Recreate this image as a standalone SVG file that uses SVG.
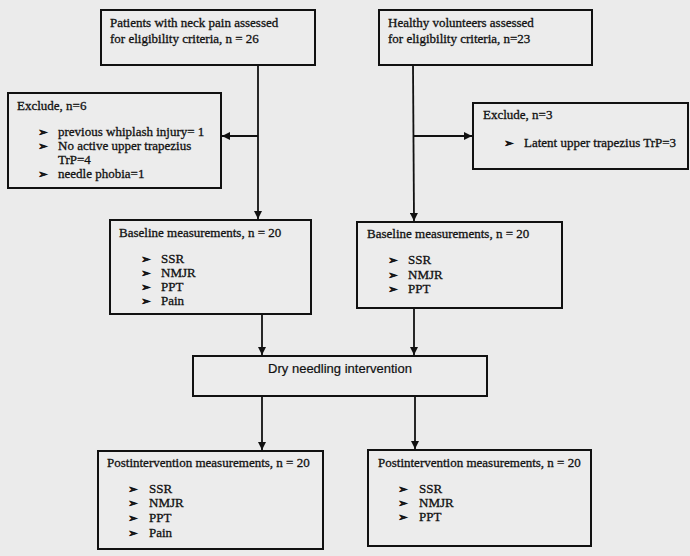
<svg xmlns="http://www.w3.org/2000/svg" width="690" height="556" viewBox="0 0 690 556">
<style>
.box{fill:#ececec;stroke:#111;stroke-width:2}
.t{font-family:"Liberation Serif","Times New Roman",serif;font-size:13px;fill:#111;stroke:#111;stroke-width:0.3}
.b{font-family:"DejaVu Sans",sans-serif;font-size:11.5px;fill:#111;stroke:#111;stroke-width:0.7}
.s{font-family:"Liberation Sans",Arial,sans-serif;font-size:13px;fill:#111;stroke:#111;stroke-width:0.2}
.c{stroke:#111;stroke-width:1.8;fill:none;marker-end:url(#ah)}
</style>
<defs>
<marker id="ah" markerUnits="userSpaceOnUse" markerWidth="9" markerHeight="8" refX="8" refY="4" orient="auto">
<path d="M0,0 L8,4 L0,8 z" fill="#111"/>
</marker>
</defs>
<rect x="0" y="0" width="690" height="556" fill="#ebebeb"/>
<g id="connectors">
<line class="c" x1="258" y1="65" x2="258" y2="219"/>
<line class="c" x1="258" y1="136" x2="222" y2="136"/>
<line class="c" x1="413" y1="65" x2="414" y2="221"/>
<line class="c" x1="413" y1="136" x2="472" y2="136"/>
<line class="c" x1="262" y1="314" x2="262" y2="355"/>
<line class="c" x1="414" y1="308" x2="414" y2="355"/>
<line class="c" x1="262" y1="396" x2="262" y2="450"/>
<line class="c" x1="415" y1="396" x2="415" y2="449"/>
</g>
<g id="patients">
<rect class="box" x="101" y="10" width="214" height="55"/>
<text class="t" x="110" y="27">Patients with neck pain assessed</text>
<text class="t" x="110" y="43">for eligibility criteria, n = 26</text>
</g>
<g id="healthy">
<rect class="box" x="379" y="10" width="213" height="55"/>
<text class="t" x="388" y="27">Healthy volunteers assessed</text>
<text class="t" x="388" y="43">for eligibility criteria, n=23</text>
</g>
<g id="exclude1">
<rect class="box" x="8" y="93" width="213" height="95"/>
<text class="t" x="17" y="110">Exclude, n=6</text>
<text class="b" x="38" y="136">➢</text>
<text class="t" x="58" y="136">previous whiplash injury= 1</text>
<text class="b" x="38" y="150">➢</text>
<text class="t" x="58" y="150">No active upper trapezius</text>
<text class="t" x="58" y="164">TrP=4</text>
<text class="b" x="38" y="178">➢</text>
<text class="t" x="58" y="178">needle phobia=1</text>
</g>
<g id="exclude2">
<rect class="box" x="473" y="103" width="215" height="66"/>
<text class="t" x="483" y="119">Exclude, n=3</text>
<text class="b" x="504" y="147">➢</text>
<text class="t" x="524" y="147">Latent upper trapezius TrP=3</text>
</g>
<g id="baseline1">
<rect class="box" x="110" y="220" width="201" height="94"/>
<text class="t" x="119" y="237">Baseline measurements, n = 20</text>
<text class="b" x="141" y="263">➢</text>
<text class="t" x="161" y="263">SSR</text>
<text class="b" x="141" y="277">➢</text>
<text class="t" x="161" y="277">NMJR</text>
<text class="b" x="141" y="291">➢</text>
<text class="t" x="161" y="291">PPT</text>
<text class="b" x="141" y="305">➢</text>
<text class="t" x="161" y="305">Pain</text>
</g>
<g id="baseline2">
<rect class="box" x="357" y="222" width="205" height="86"/>
<text class="t" x="367" y="238">Baseline measurements, n = 20</text>
<text class="b" x="388" y="264">➢</text>
<text class="t" x="408" y="264">SSR</text>
<text class="b" x="388" y="279">➢</text>
<text class="t" x="408" y="279">NMJR</text>
<text class="b" x="388" y="293">➢</text>
<text class="t" x="408" y="293">PPT</text>
</g>
<g id="dryneedling">
<rect class="box" x="193" y="356" width="294" height="40"/>
<text class="s" x="340" y="373" text-anchor="middle">Dry needling intervention</text>
</g>
<g id="post1">
<rect class="box" x="98" y="451" width="225" height="98"/>
<text class="t" x="107" y="467">Postintervention measurements, n = 20</text>
<text class="b" x="128" y="493">➢</text>
<text class="t" x="149" y="493">SSR</text>
<text class="b" x="128" y="507">➢</text>
<text class="t" x="149" y="507">NMJR</text>
<text class="b" x="128" y="522">➢</text>
<text class="t" x="149" y="522">PPT</text>
<text class="b" x="128" y="537">➢</text>
<text class="t" x="149" y="537">Pain</text>
</g>
<g id="post2">
<rect class="box" x="368" y="450" width="223" height="96"/>
<text class="t" x="378" y="467">Postintervention measurements, n = 20</text>
<text class="b" x="398" y="493">➢</text>
<text class="t" x="419" y="493">SSR</text>
<text class="b" x="398" y="507">➢</text>
<text class="t" x="419" y="507">NMJR</text>
<text class="b" x="398" y="521">➢</text>
<text class="t" x="419" y="521">PPT</text>
</g>
</svg>
